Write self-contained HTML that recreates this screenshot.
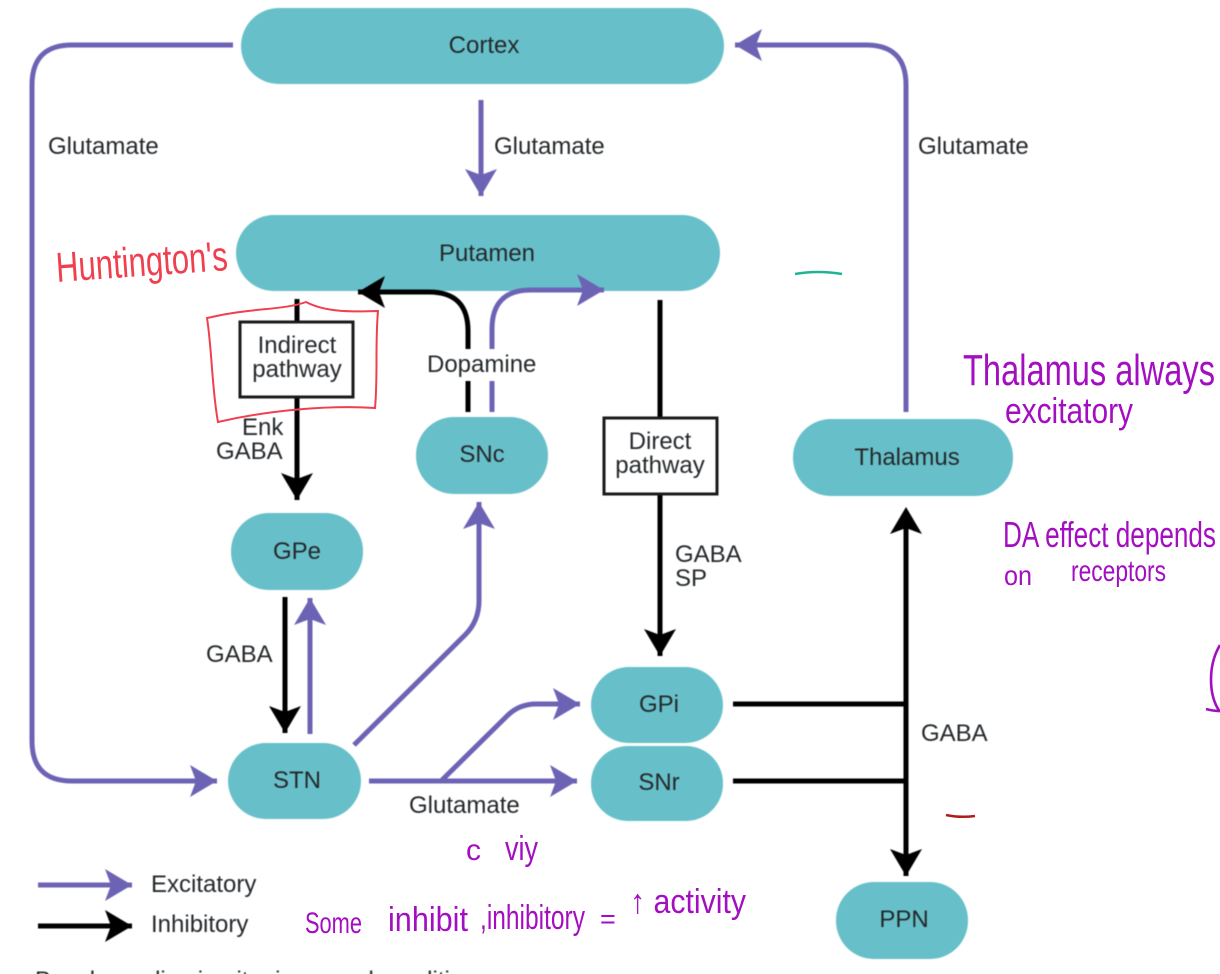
<!DOCTYPE html>
<html>
<head>
<meta charset="utf-8">
<style>
html,body{margin:0;padding:0;background:#fff;width:1220px;height:974px;overflow:hidden}
svg{display:block}
.d text{font-family:"Liberation Sans",sans-serif;font-size:24px;fill:#24282b}
.m{text-anchor:middle}
.h text{font-family:"Liberation Sans",sans-serif;fill:#a30fc0;font-weight:400}
.p{fill:none;stroke:#6c63b5;stroke-width:5}
.b{fill:none;stroke:#000;stroke-width:5}
.n{fill:#67c0c9}
</style>
</head>
<body>
<svg width="1220" height="974" viewBox="0 0 1220 974" xmlns="http://www.w3.org/2000/svg">
<defs>
<marker id="ap" markerUnits="userSpaceOnUse" markerWidth="40" markerHeight="40" refX="30" refY="20" orient="auto"><path d="M30,20 L3,4 L9,20 L3,36 Z" fill="#6c63b5"/></marker>
<marker id="ab" markerUnits="userSpaceOnUse" markerWidth="40" markerHeight="40" refX="30" refY="20" orient="auto"><path d="M30,20 L3,4 L9,20 L3,36 Z" fill="#000"/></marker>
</defs>
<g class="d" style="filter:blur(.5px)">
<rect class="n" x="241" y="8" width="483" height="76" rx="38"/>
<rect class="n" x="236" y="215" width="484" height="76" rx="38"/>
<rect class="n" x="416" y="417" width="132" height="77" rx="38"/>
<rect class="n" x="793" y="419" width="220" height="77" rx="38"/>
<rect class="n" x="231" y="513" width="132" height="77" rx="38"/>
<rect class="n" x="228" y="743" width="133" height="76" rx="38"/>
<rect class="n" x="591" y="667" width="132" height="76" rx="38"/>
<rect class="n" x="591" y="746" width="132" height="75" rx="37"/>
<rect class="n" x="836" y="882" width="132" height="77" rx="38"/>

<path class="p" d="M233,45 H72 Q32,45 32,85 V741 Q32,781 72,781 H217" marker-end="url(#ap)"/>
<path class="p" d="M481,100 V196" marker-end="url(#ap)"/>
<path class="p" d="M906,412 V85 Q906,45 866,45 H735" marker-end="url(#ap)"/>
<path class="b" d="M468,349 V331 Q468,292 429,292 H358" marker-end="url(#ab)"/>
<path class="b" d="M468,381 V412"/>
<path class="p" d="M492,349 V329 Q492,290 531,290 H604" marker-end="url(#ap)"/>
<path class="p" d="M492,381 V412"/>
<path class="b" d="M660,300 V418"/>
<path class="b" d="M660,494 V656" marker-end="url(#ab)"/>
<path class="b" d="M297,299 V322"/>
<path class="b" d="M297,397 V500" marker-end="url(#ab)"/>
<path class="b" d="M285,597 V733" marker-end="url(#ab)"/>
<path class="p" d="M310,734 V598" marker-end="url(#ap)"/>
<path class="p" d="M354,745 L465,635 Q479,621 479,601 V502" marker-end="url(#ap)"/>
<path class="p" d="M369,781 H577" marker-end="url(#ap)"/>
<path class="p" d="M441,781 L507,716 Q519,704 536,704 H580" marker-end="url(#ap)"/>
<path class="b" d="M733,704 H906 M733,781 H906"/>
<path class="b" d="M906,520 V876" marker-end="url(#ab)"/>
<path d="M906,507 L890,534 L906,528 L922,534 Z" fill="#000"/>
<path class="p" d="M38,885 H132" marker-end="url(#ap)"/>
<path class="b" d="M38,926 H132" marker-end="url(#ab)"/>

<rect x="240" y="322" width="113" height="75" fill="#fff" stroke="#1a1a1a" stroke-width="3"/>
<rect x="604" y="418" width="113" height="76" fill="#fff" stroke="#1a1a1a" stroke-width="3"/>

<text class="m" x="484" y="53">Cortex</text>
<text class="m" x="487" y="261">Putamen</text>
<text x="48" y="154">Glutamate</text>
<text x="494" y="154">Glutamate</text>
<text x="918" y="154">Glutamate</text>
<text class="m" x="297" y="353">Indirect</text>
<text class="m" x="297" y="377">pathway</text>
<text x="242" y="435">Enk</text>
<text x="216" y="459">GABA</text>
<text x="427" y="372">Dopamine</text>
<text class="m" x="482" y="462">SNc</text>
<text class="m" x="660" y="449">Direct</text>
<text class="m" x="660" y="473">pathway</text>
<text class="m" x="907" y="465">Thalamus</text>
<text class="m" x="297" y="559">GPe</text>
<text x="206" y="662">GABA</text>
<text x="675" y="562">GABA</text>
<text x="675" y="586">SP</text>
<text class="m" x="297" y="788">STN</text>
<text class="m" x="659" y="712">GPi</text>
<text class="m" x="659" y="790">SNr</text>
<text x="409" y="813">Glutamate</text>
<text x="921" y="741">GABA</text>
<text class="m" x="904" y="927">PPN</text>
<text x="151" y="892">Excitatory</text>
<text x="151" y="932">Inhibitory</text>
<text x="35" y="988">Basal ganglia circuitry in normal conditions</text>
</g>

<path d="M212,317 C250,308 285,310 306,302 C325,312 350,312 378,311 C375,345 378,375 375,408 C330,405 270,410 218,422 C212,390 212,350 207,318 Z" fill="none" stroke="#f0404f" stroke-width="2"/>
<text x="57" y="282" transform="rotate(-4 57 282)" textLength="172" lengthAdjust="spacingAndGlyphs" style="font-family:'Liberation Sans',sans-serif;font-size:42px;fill:#f0404f">Huntington's</text>

<path d="M795,274 Q818,270 842,274" fill="none" stroke="#1fb594" stroke-width="2.5"/>
<path d="M946,815 Q960,818 975,816" fill="none" stroke="#b01c1c" stroke-width="2.5"/>
<path d="M1220,645 C1208,665 1208,695 1220,712 M1206,709 Q1213,711 1220,711" fill="none" stroke="#a30fc0" stroke-width="2.6"/>

<g class="h">
<text x="963" y="385" font-size="44" textLength="252" lengthAdjust="spacingAndGlyphs">Thalamus always</text>
<text x="1005" y="423" font-size="36" textLength="128" lengthAdjust="spacingAndGlyphs">excitatory</text>
<text x="1003" y="547" font-size="36" textLength="213" lengthAdjust="spacingAndGlyphs">DA effect depends</text>
<text x="1004" y="585" font-size="28" textLength="28" lengthAdjust="spacingAndGlyphs">on</text>
<text x="1071" y="581" font-size="30" textLength="95" lengthAdjust="spacingAndGlyphs">receptors</text>
<text x="466" y="860" font-size="30">c</text>
<text x="505" y="860" font-size="34" textLength="33" lengthAdjust="spacingAndGlyphs">viy</text>
<text x="305" y="933" font-size="30" textLength="57" lengthAdjust="spacingAndGlyphs">Some</text>
<text x="388" y="931" font-size="34" textLength="80" lengthAdjust="spacingAndGlyphs">inhibit</text>
<text x="480" y="929" font-size="34" textLength="105" lengthAdjust="spacingAndGlyphs">,inhibitory</text>
<text x="600" y="928" font-size="27">=</text>
<text x="630" y="913" font-size="34" textLength="116" lengthAdjust="spacingAndGlyphs">↑ activity</text>
</g>
</svg>
</body>
</html>
